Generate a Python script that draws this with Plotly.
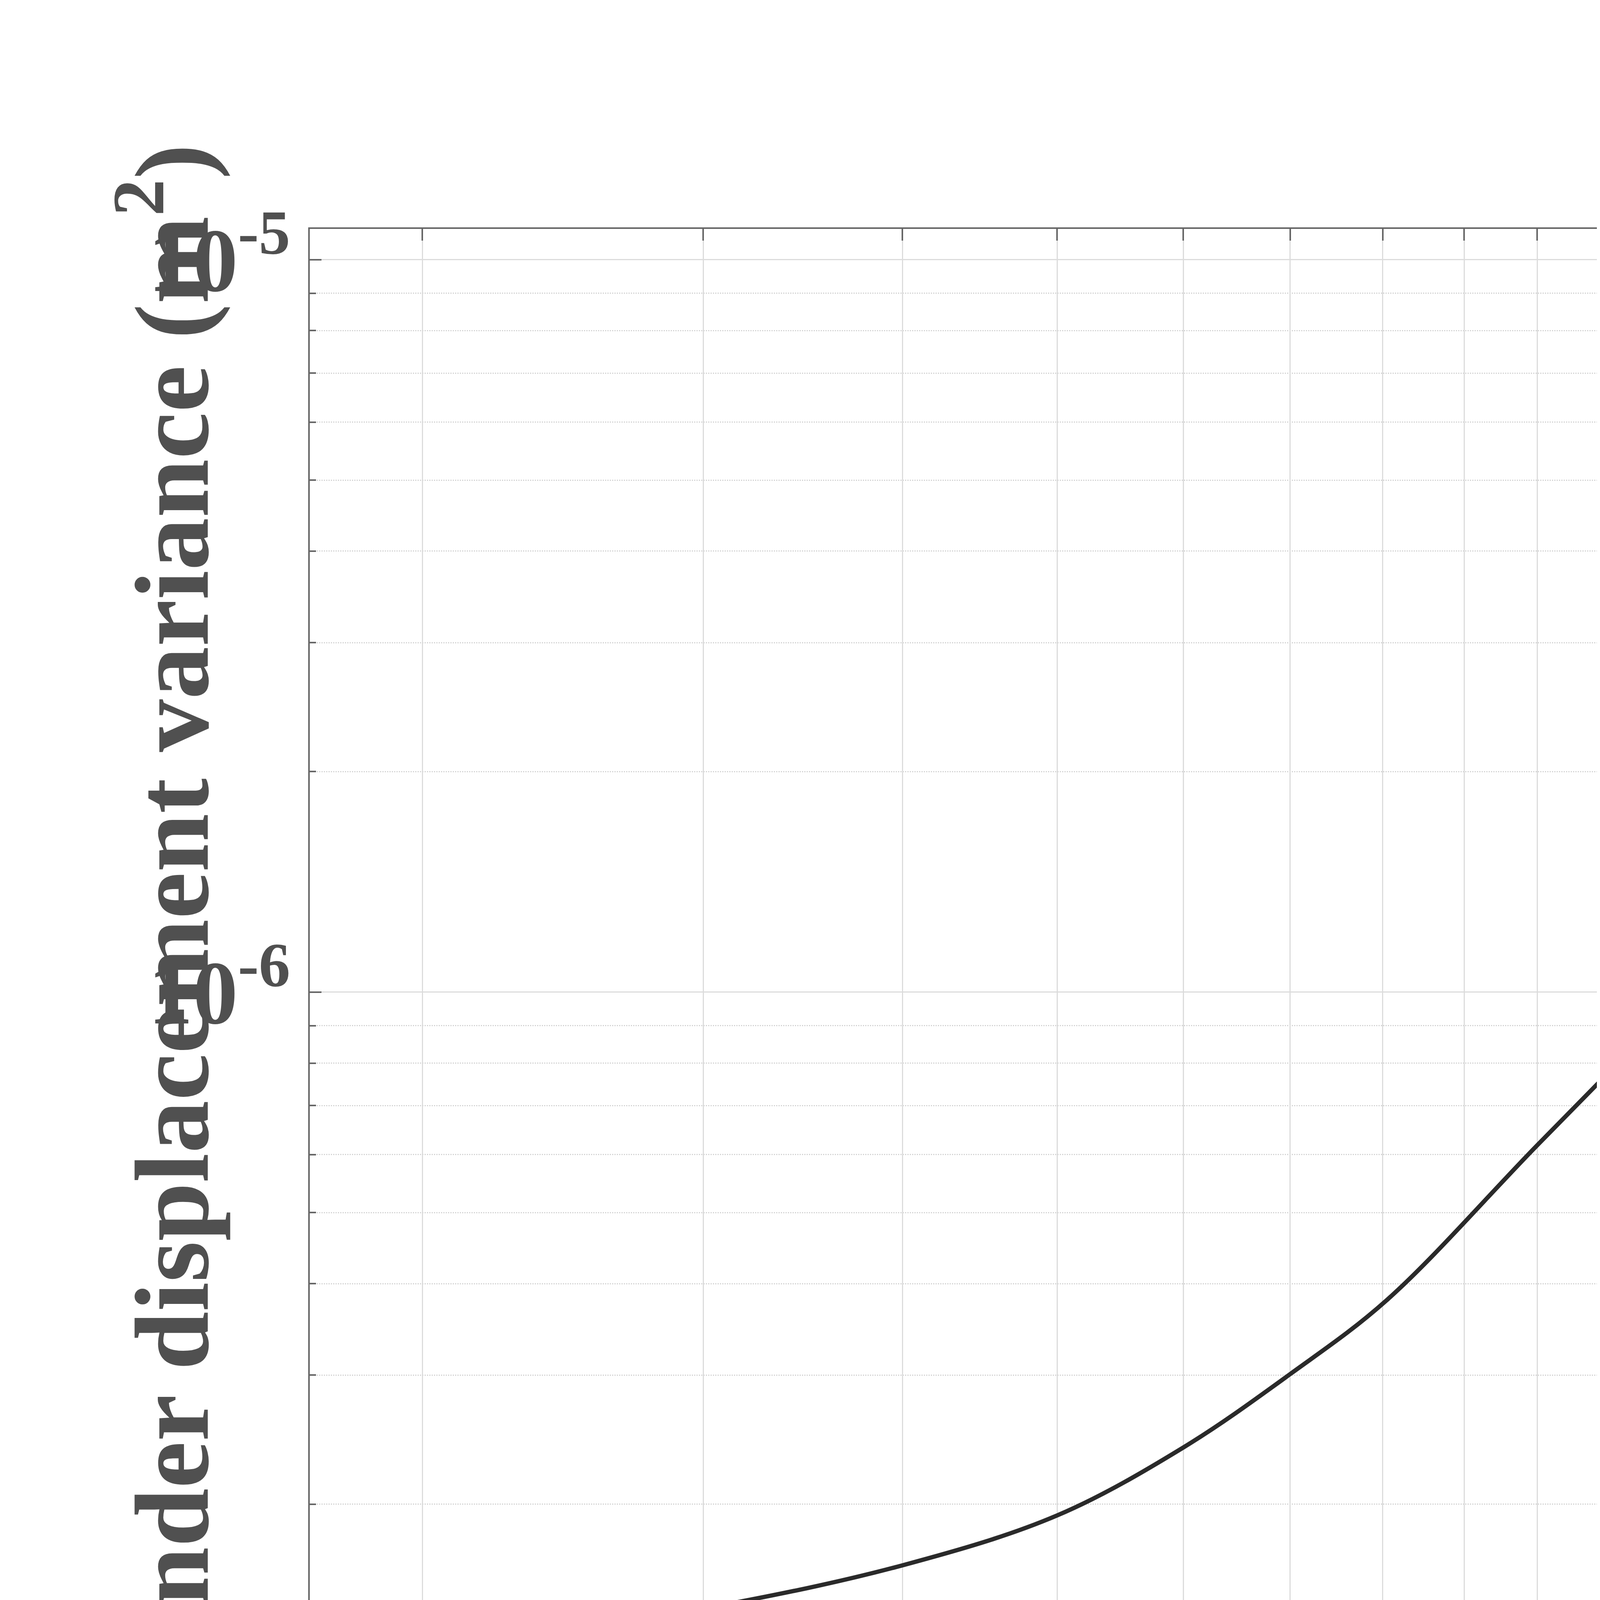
import plotly.graph_objects as go

# Cn^2(0) in units of 1e-15 m^-2/3
cn2 = [1.70, 2.0, 3.0, 4.0, 5.0, 6.0, 7.0, 8.05, 10.0, 12.2, 13.4, 14.5, 15.4, 16.2, 16.8, 16.95]
# beam wander displacement variance (m^2)
variance = [1.21e-7, 1.26e-7, 1.44e-7, 1.65e-7, 1.93e-7, 2.39e-7, 3.01e-7, 3.80e-7,
            6.18e-7, 9.6e-7, 1.19e-6, 1.56e-6, 2.29e-6, 4.14e-6, 7.47e-6, 1.0e-5]

x_ticks = [2, 3, 4, 5, 6, 7, 8, 9, 10]
x_labels = ["2", "", "4", "", "6", "", "8", "", "10"]
y_ticks = [1e-7, 1e-6, 1e-5]
y_labels = ["10<sup>-7</sup>", "10<sup>-6</sup>", "10<sup>-5</sup>"]
y_minor = [m * 1e-7 for m in range(2, 10)] + [m * 1e-6 for m in range(2, 10)]

grey = "#505050"
font = "Liberation Serif, Times New Roman, Times, serif"

fig = go.Figure(go.Scatter(x=cn2, y=variance, mode="lines",
                           line=dict(color="#2a2a2a", width=11, shape="spline")))

axis_common = dict(type="log", showline=True, linecolor="#666666", linewidth=4, mirror="ticks",
                   ticks="inside", ticklen=30, tickwidth=4, tickcolor="#666666",
                   showgrid=True, gridcolor="#dcdcdc", gridwidth=3, zeroline=False,
                   tickfont=dict(family=font, size=230, color=grey, weight="bold"))

fig.update_xaxes(range=[0.2304, 1.2304], tickvals=x_ticks, ticktext=x_labels,
                 ticklabelstandoff=60, **axis_common)
fig.update_yaxes(range=[-7, -4.958], tickvals=y_ticks, ticktext=y_labels,
                 minor=dict(tickvals=y_minor, showgrid=True, gridcolor="#d4d4d4", griddash="dot",
                            gridwidth=3, ticks="inside", ticklen=16, tickcolor="#666666"),
                 **axis_common)

fig.add_annotation(text="C<sub>n</sub><sup>2</sup>(0) (10<sup>-15</sup>m<sup>-2/3</sup>)",
                   xref="paper", yref="paper", x=0.469, y=0, yshift=-760, showarrow=False,
                   font=dict(family=font, size=270, color=grey, weight="bold"))
fig.add_annotation(text="Beam wander displacement variance (m<sup>2</sup>)",
                   xref="paper", yref="paper", x=0, y=0.43, xshift=-545, textangle=-90,
                   showarrow=False, font=dict(family=font, size=270, color=grey, weight="bold"))

fig.update_layout(width=4959, height=5409, plot_bgcolor="white", paper_bgcolor="white",
                  showlegend=False, margin=dict(l=785, r=91, t=578, b=1002))

fig.write_html("out.html")
